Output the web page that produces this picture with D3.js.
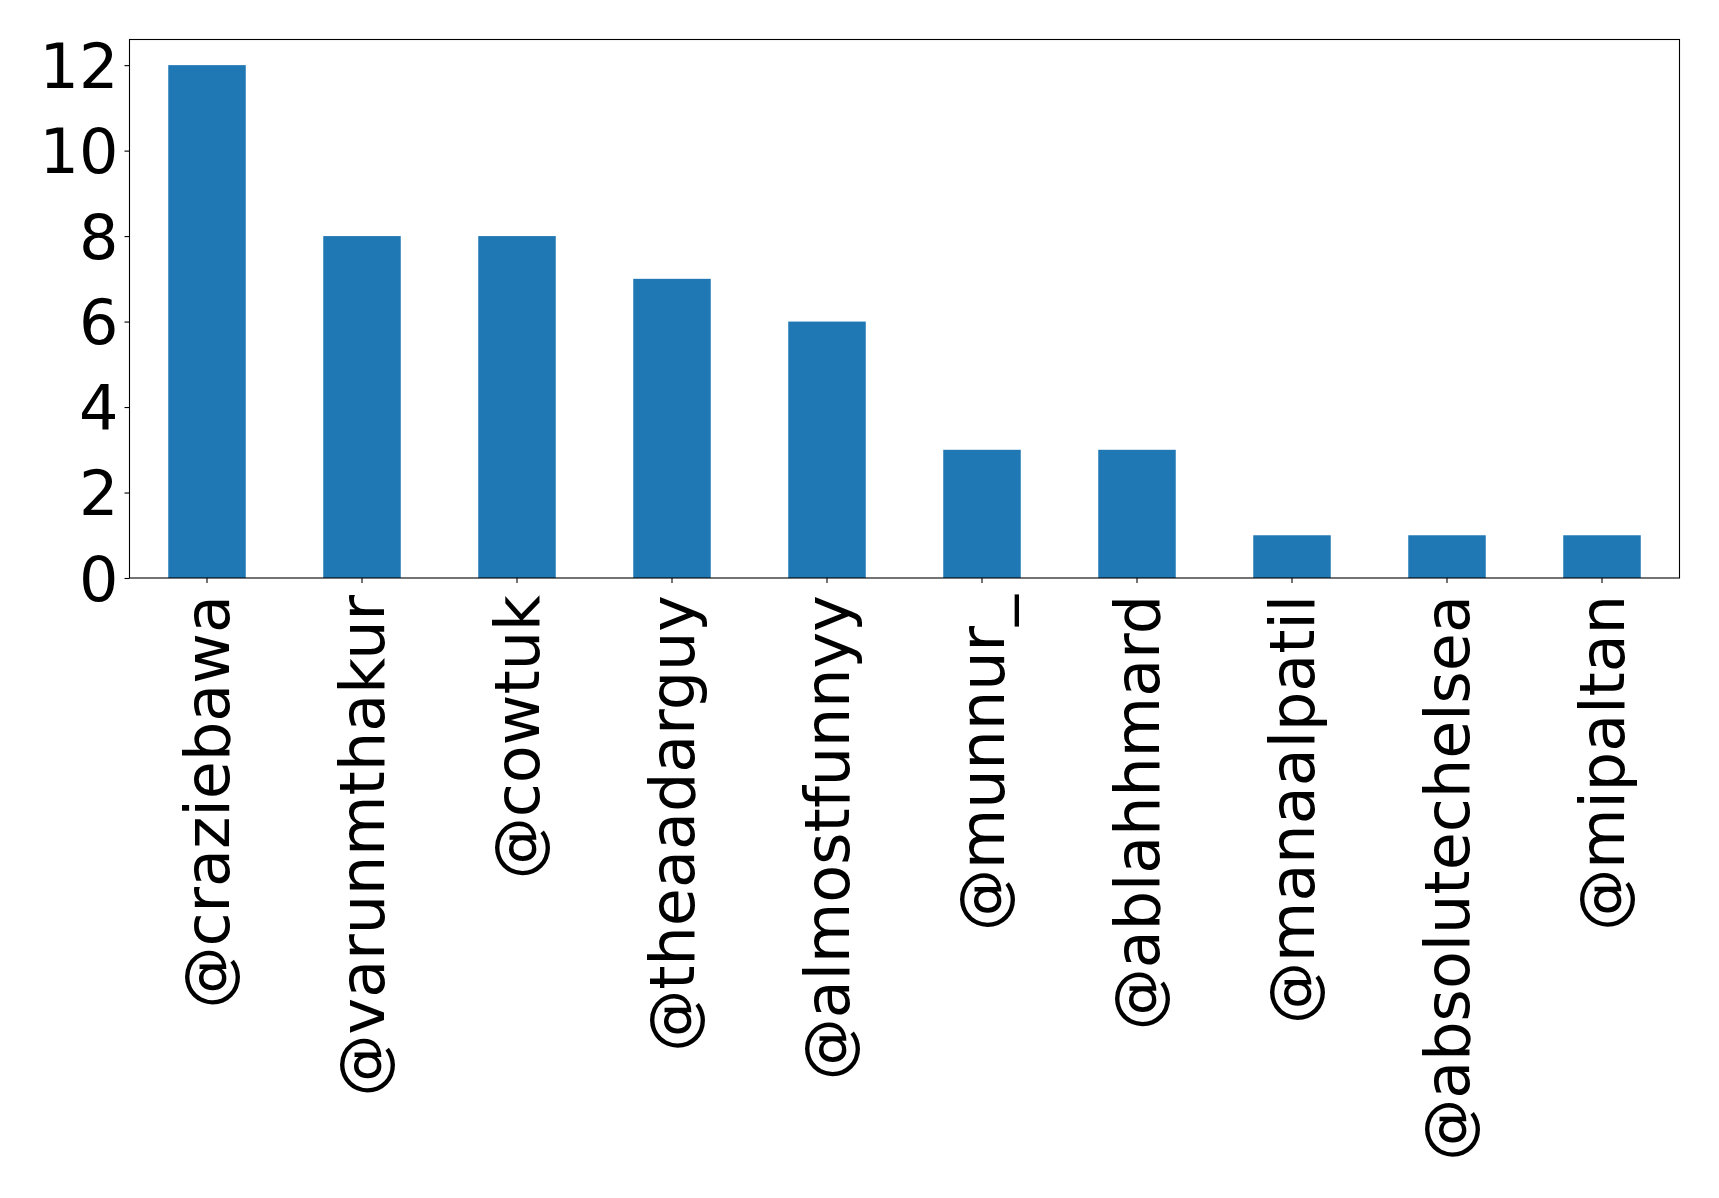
<!DOCTYPE html>
<html><head><meta charset="utf-8">
<script src="https://cdn.jsdelivr.net/npm/d3@7"></script>
<style>
html,body{margin:0;padding:0;background:#fff;}
svg{display:block;}
text{font-family:"DejaVu Sans",sans-serif;fill:#000;}
</style></head>
<body>
<svg id="chart" width="1719" height="1198"></svg>
<script>
const categories = ["@craziebawa","@varunmthakur","@cowtuk","@theaadarguy","@almostfunnyy","@munnur_","@ablahhmard","@manaalpatil","@absolutechelsea","@mipaltan"];
const values = [12, 8, 8, 7, 6, 3, 3, 1, 1, 1];
const yTicks = [0, 2, 4, 6, 8, 10, 12];

const svg = d3.select("#chart");
const L = 129.5, R = 1679.5, T = 39.5, B = 578;
const FS = 62;

const x = d3.scaleBand().domain(categories).range([L, R]).paddingInner(0.5).paddingOuter(0.25);
const y = d3.scaleLinear().domain([0, 12.6]).range([B, T]);

svg.append("g").selectAll("rect").data(values).join("rect")
  .attr("x", (d, i) => x(categories[i]))
  .attr("width", x.bandwidth())
  .attr("y", d => y(d))
  .attr("height", d => y(0) - y(d))
  .attr("fill", "#1f77b4");

const yAxis = svg.append("g").attr("transform", `translate(${L},0)`)
  .call(d3.axisLeft(y).tickValues(yTicks).tickSize(5).tickPadding(6).tickFormat(d3.format("d")));
yAxis.select(".domain").remove();
yAxis.selectAll("line").attr("stroke", "#000").attr("stroke-width", 1.1);
yAxis.selectAll("text").attr("font-size", FS).attr("font-family", "DejaVu Sans").attr("dy", "0.36em").attr("fill", "#000");

const xAxis = svg.append("g").attr("transform", `translate(0,${B})`)
  .call(d3.axisBottom(x).tickSize(5).tickPadding(0));
xAxis.select(".domain").remove();
xAxis.selectAll("line").attr("stroke", "#000").attr("stroke-width", 1.1);
xAxis.selectAll("text")
  .attr("font-size", FS).attr("font-family", "DejaVu Sans").attr("fill", "#000")
  .attr("text-anchor", "end")
  .attr("transform", "rotate(-90)")
  .attr("x", -17).attr("y", 0).attr("dy", "0.36em");

svg.append("rect").attr("x", L).attr("y", T).attr("width", R - L).attr("height", B - T)
  .attr("fill", "none").attr("stroke", "#000").attr("stroke-width", 1.1);
</script>
</body></html>
